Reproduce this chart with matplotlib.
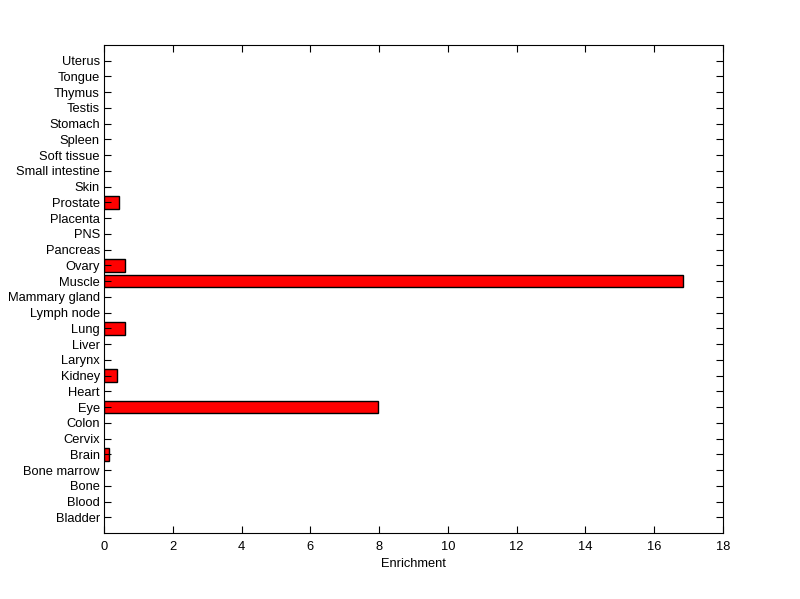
import numpy as np
import matplotlib
matplotlib.use("Agg")
import matplotlib.pyplot as plt

tejidos = ["Bladder", "Blood", "Bone", "Bone marrow", "Brain", "Cervix", "Colon", "Eye",
           "Heart", "Kidney", "Larynx", "Liver", "Lung", "Lymph node", "Mammary gland",
           "Muscle", "Ovary", "Pancreas", "PNS", "Placenta", "Prostate", "Skin",
           "Small intestine", "Soft tissue", "Spleen", "Stomach", "Testis", "Thymus",
           "Tongue", "Uterus"]
enriquecimiento = [0, 0, 0, 0, 0.14, 0, 0, 7.96,
                   0, 0.39, 0, 0, 0.60, 0, 0,
                   16.83, 0.60, 0, 0, 0, 0.43, 0,
                   0, 0, 0, 0, 0, 0,
                   0, 0]
xticks = [0, 2, 4, 6, 8, 10, 12, 14, 16, 18]

plt.rcParams['font.family'] = ['Liberation Sans', 'DejaVu Sans']

fig = plt.figure(figsize=(8, 5.99), dpi=100)
ax = fig.add_axes([0.13, 0.110, 0.77375, 0.815])

pos = np.arange(1, len(tejidos) + 1)
valores = np.array(enriquecimiento)
mask = valores > 0  # MATLAB no dibuja barras de ancho cero
ax.barh(pos[mask], valores[mask], height=0.8, color="#ff0000", edgecolor="black", linewidth=1)

ax.set_xlim(0, 18)
ax.set_ylim(0, len(tejidos) + 1)
ax.set_xticks(xticks)
ax.set_yticks(pos)
ax.set_yticklabels(tejidos)
ax.tick_params(direction="in", top=True, right=True, length=5, width=0.8, labelsize=9.3)
ax.tick_params(axis="x", pad=6)
ax.tick_params(axis="y", pad=3)
ax.set_xlabel("Enrichment", fontsize=9.3, labelpad=3)
for s in ax.spines.values():
    s.set_linewidth(0.8)

fig.savefig("out.png", dpi=100)
